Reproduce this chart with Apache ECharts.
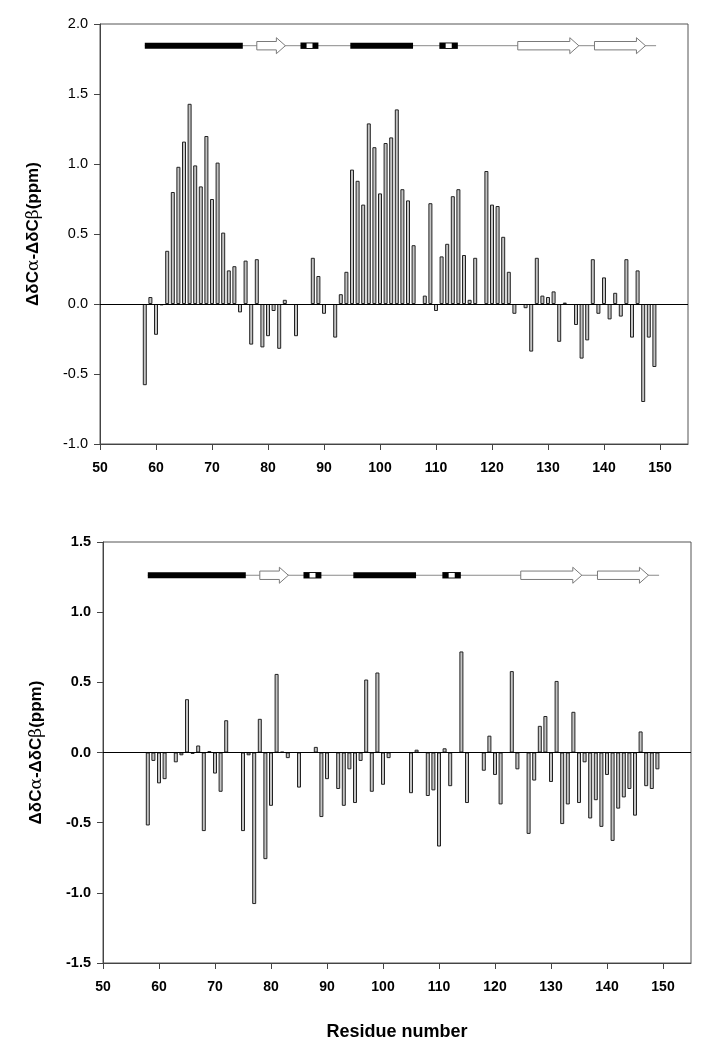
<!DOCTYPE html>
<html>
<head>
<meta charset="utf-8">
<script src="https://cdn.jsdelivr.net/npm/echarts@6/dist/echarts.min.js"></script>
<style>
html,body{margin:0;padding:0;background:#fff;}
#chart{width:704px;height:1050px;}
</style>
</head>
<body>
<div id="chart"></div>
<script>
// ---- Data ----
const topResidues = [58,59,60,61,62,63,64,65,66,67,68,69,70,71,72,73,74,75,76,77,78,79,80,81,82,83,85,88,89,90,92,93,94,95,96,97,98,99,100,101,102,103,104,105,106,108,109,110,111,112,113,114,115,116,117,119,120,121,122,123,124,126,127,128,129,130,131,132,133,135,136,137,138,139,140,141,142,143,144,145,146,147,148,149];
const topValues = [-0.58,0.05,-0.22,-0.01,0.38,0.80,0.98,1.16,1.43,0.99,0.84,1.20,0.75,1.01,0.51,0.24,0.27,-0.06,0.31,-0.29,0.32,-0.31,-0.23,-0.05,-0.32,0.03,-0.23,0.33,0.20,-0.07,-0.24,0.07,0.23,0.96,0.88,0.71,1.29,1.12,0.79,1.15,1.19,1.39,0.82,0.74,0.42,0.06,0.72,-0.05,0.34,0.43,0.77,0.82,0.35,0.03,0.33,0.95,0.71,0.70,0.48,0.23,-0.07,-0.03,-0.34,0.33,0.06,0.05,0.09,-0.27,0.01,-0.15,-0.39,-0.26,0.32,-0.07,0.19,-0.11,0.08,-0.09,0.32,-0.24,0.24,-0.70,-0.24,-0.45];

const bottomResidues = [58,59,60,61,63,64,65,66,67,68,69,70,71,72,75,76,77,78,79,80,81,82,83,85,88,89,90,92,93,94,95,96,97,98,99,100,101,105,106,108,109,110,111,112,114,115,118,119,120,121,123,124,126,127,128,129,130,131,132,133,134,135,136,137,138,139,140,141,142,143,144,145,146,147,148,149];
const bottomValues = [-0.52,-0.06,-0.22,-0.19,-0.07,-0.02,0.38,-0.01,0.05,-0.56,0.01,-0.15,-0.28,0.23,-0.56,-0.02,-1.08,0.24,-0.76,-0.38,0.56,0.005,-0.04,-0.25,0.04,-0.46,-0.19,-0.26,-0.38,-0.12,-0.36,-0.06,0.52,-0.28,0.57,-0.23,-0.04,-0.29,0.02,-0.31,-0.27,-0.67,0.03,-0.24,0.72,-0.36,-0.13,0.12,-0.16,-0.37,0.58,-0.12,-0.58,-0.20,0.19,0.26,-0.21,0.51,-0.51,-0.37,0.29,-0.36,-0.07,-0.47,-0.34,-0.53,-0.16,-0.63,-0.40,-0.32,-0.26,-0.45,0.15,-0.24,-0.26,-0.12];

// Secondary structure elements (residue ranges)
const ssType  = ['coil','helix','strand','turn','helix','turn','strand','strand'];
const ssStart = [58, 58, 78, 85.8, 94.7, 110.6, 124.6, 138.3];
const ssEnd   = [149.3, 75.5, 83.1, 89, 105.9, 113.9, 135.5, 147.4];

const xTicks = [50,60,70,80,90,100,110,120,130,140,150];
const topYTicks = [-1.0,-0.5,0.0,0.5,1.0,1.5,2.0];
const bottomYTicks = [-1.5,-1.0,-0.5,0.0,0.5,1.0,1.5];

const xTitle = 'Residue number';
const yTitle = 'ΔδC{g|α}-ΔδC{g|β}(ppm)';

// ---- Chart ----
const FONT = '"Liberation Sans", Arial, Helvetica, sans-serif';
const chart = echarts.init(document.getElementById('chart'), null, {renderer: 'canvas'});

function renderSS(params, api) {
  const t = ssType[params.dataIndex];
  const a = api.coord([api.value(0), api.value(2)]);
  const b = api.coord([api.value(1), api.value(2)]);
  const x0 = a[0], x1 = b[0], y = a[1];
  if (t === 'coil') {
    return {type: 'line', shape: {x1: x0, y1: y, x2: x1, y2: y}, style: {stroke: '#8a8a8a', lineWidth: 1}};
  }
  if (t === 'helix') {
    return {type: 'rect', shape: {x: x0, y: y - 3, width: x1 - x0, height: 6}, style: {fill: '#000'}};
  }
  if (t === 'turn') {
    const w = x1 - x0;
    return {type: 'group', children: [
      {type: 'rect', shape: {x: x0, y: y - 3.2, width: w, height: 6.4}, style: {fill: '#000'}},
      {type: 'rect', shape: {x: x0 + w * 0.34, y: y - 2.3, width: w * 0.33, height: 4.6}, style: {fill: '#fff'}}
    ]};
  }
  // strand arrow
  const head = 9, bh = 4.2, hh = 8;
  const xh = x1 - head;
  return {type: 'polygon', shape: {points: [
    [x0, y - bh], [xh, y - bh], [xh, y - hh], [x1, y], [xh, y + hh], [xh, y + bh], [x0, y + bh]
  ]}, style: {fill: '#fff', stroke: '#7a7a7a', lineWidth: 1}};
}

function xAxisCfg(gridIndex, withName) {
  const cfg = {
    type: 'value', gridIndex: gridIndex, min: 50, max: 155, interval: 10,
    axisLine: {show: true, onZero: false, lineStyle: {color: '#444', width: 1}},
    axisTick: {show: true, inside: false, length: 6, lineStyle: {color: '#444'}},
    axisLabel: {show: true, margin: 17, color: '#000', fontFamily: FONT, fontSize: 14, fontWeight: 'bold',
      showMaxLabel: false,
      formatter: function (v) { return xTicks.indexOf(v) >= 0 ? String(v) : ''; }},
    splitLine: {show: false}
  };
  if (withName) {
    cfg.name = xTitle;
    cfg.nameLocation = 'middle';
    cfg.nameGap = 60;
    cfg.nameTextStyle = {color: '#000', fontFamily: FONT, fontSize: 18, fontWeight: 'bold'};
  }
  return cfg;
}

function yAxisCfg(gridIndex, ticks, labelBold) {
  return {
    type: 'value', gridIndex: gridIndex, min: ticks[0], max: ticks[ticks.length - 1], interval: 0.5,
    name: yTitle, nameLocation: 'middle', nameGap: 58, nameRotate: 90,
    nameTextStyle: {color: '#000', fontFamily: FONT, fontSize: 17, fontWeight: 'bold',
      rich: {g: {fontFamily: '"DejaVu Serif", serif', fontSize: 17, fontWeight: 'normal', color: '#000'}}},
    axisLine: {show: true, lineStyle: {color: '#444', width: 1}},
    axisTick: {show: true, inside: false, length: 6, lineStyle: {color: '#444'}},
    axisLabel: {show: true, margin: 12, color: '#000', fontFamily: FONT, fontSize: 14.5,
      fontWeight: labelBold ? 'bold' : 'normal',
      formatter: function (v) { return v.toFixed(1); }},
    splitLine: {show: false}
  };
}

function barSeries(idx, residues, values) {
  return {
    type: 'bar', xAxisIndex: idx, yAxisIndex: idx,
    data: residues.map(function (r, i) { return [r, values[i]]; }),
    barWidth: 4,
    itemStyle: {color: '#c4c4c4', borderColor: '#222', borderWidth: 1},
    silent: true,
    markLine: {
      silent: true, symbol: 'none', label: {show: false},
      lineStyle: {color: '#000', width: 1, type: 'solid'},
      data: [{yAxis: 0}]
    }
  };
}

function ssSeries(idx, level) {
  return {
    type: 'custom', xAxisIndex: idx, yAxisIndex: idx, silent: true, clip: false,
    renderItem: renderSS,
    encode: {x: [0, 1], y: 2},
    data: ssStart.map(function (s, i) { return [s, ssEnd[i], level]; }),
    z: 5
  };
}

const option = {
  backgroundColor: '#fff',
  animation: false,
  grid: [
    {left: 100, right: 16, top: 24, height: 420, show: true, borderColor: '#555', borderWidth: 1, containLabel: false},
    {left: 103, right: 13, top: 542, height: 421, show: true, borderColor: '#555', borderWidth: 1, containLabel: false}
  ],
  xAxis: [xAxisCfg(0, false), xAxisCfg(1, true)],
  yAxis: [yAxisCfg(0, topYTicks, false), yAxisCfg(1, bottomYTicks, true)],
  series: [
    barSeries(0, topResidues, topValues),
    barSeries(1, bottomResidues, bottomValues),
    ssSeries(0, 1.845),
    ssSeries(1, 1.263)
  ]
};
chart.setOption(option);
</script>
</body>
</html>
